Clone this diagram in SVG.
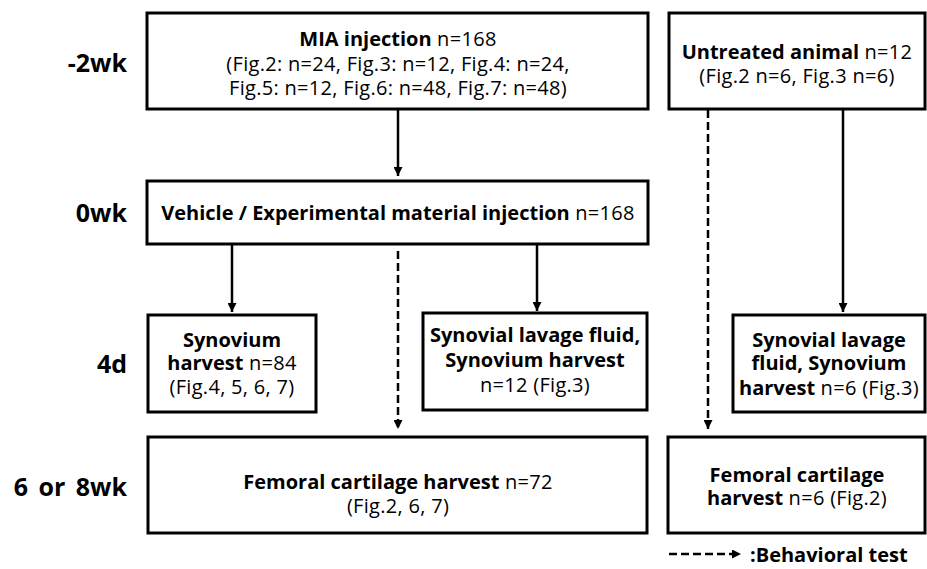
<svg xmlns="http://www.w3.org/2000/svg" width="927" height="569" viewBox="0 0 927 569">
<defs>
<style>
.box{fill:#fff;stroke:#000;stroke-width:3}
.t{font-family:"Open Sans","Noto Sans","DejaVu Sans",sans-serif;font-size:20px;fill:#000;text-anchor:middle;letter-spacing:0.3px}
.b{font-weight:bold;letter-spacing:0}
.lab{font-family:"Open Sans","Noto Sans","DejaVu Sans",sans-serif;font-size:25px;font-weight:bold;fill:#000;text-anchor:end;word-spacing:4px}
.solid{stroke:#000;stroke-width:2.5;fill:none;marker-end:url(#ah)}
.dash{stroke:#000;stroke-width:2.5;fill:none;stroke-dasharray:8 4;marker-end:url(#ah)}
</style>
<marker id="ah" viewBox="0 0 10 10" refX="10" refY="5" markerWidth="9" markerHeight="9" orient="auto" markerUnits="userSpaceOnUse">
<path d="M0,0 L10,5 L0,10 z" fill="#000"/>
</marker>
</defs>
<rect width="927" height="569" fill="#fff"/>

<g id="labels">
<text class="lab" x="127" y="72">-2wk</text>
<text class="lab" x="127" y="222">0wk</text>
<text class="lab" x="127" y="373">4d</text>
<text class="lab" x="127" y="496">6 or 8wk</text>
</g>

<g id="connectors">
<line class="solid" x1="398" y1="110" x2="398" y2="176"/>
<line class="solid" x1="232" y1="245" x2="232" y2="312"/>
<line class="solid" x1="537" y1="245" x2="537" y2="311"/>
<line class="dash" x1="398" y1="251" x2="398" y2="429"/>
<line class="dash" x1="708" y1="110" x2="708" y2="429"/>
<line class="solid" x1="843" y1="110" x2="843" y2="312"/>
</g>

<g id="mia">
<rect class="box" x="147" y="13" width="501" height="96"/>
<text class="t" x="398" y="46"><tspan class="b">MIA injection</tspan> n=168</text>
<text class="t" x="398" y="71">(Fig.2: n=24, Fig.3: n=12, Fig.4: n=24,</text>
<text class="t" x="398" y="95">Fig.5: n=12, Fig.6: n=48, Fig.7: n=48)</text>
</g>

<g id="untreated">
<rect class="box" x="669" y="13" width="256" height="96"/>
<text class="t" x="797" y="59"><tspan class="b">Untreated animal</tspan> n=12</text>
<text class="t" x="797" y="83">(Fig.2 n=6, Fig.3 n=6)</text>
</g>

<g id="vehicle">
<rect class="box" x="147" y="181" width="501" height="63"/>
<text class="t" x="398" y="220"><tspan class="b">Vehicle / Experimental material injection</tspan> n=168</text>
</g>

<g id="synovium">
<rect class="box" x="148" y="315" width="168" height="97"/>
<text class="t b" x="232" y="347">Synovium</text>
<text class="t" x="232" y="370"><tspan class="b">harvest</tspan> n=84</text>
<text class="t" x="232" y="394">(Fig.4, 5, 6, 7)</text>
</g>

<g id="lavage-mid">
<rect class="box" x="423" y="313" width="224" height="97"/>
<text class="t b" x="535" y="342">Synovial lavage fluid,</text>
<text class="t b" x="535" y="367">Synovium harvest</text>
<text class="t" x="535" y="392">n=12 (Fig.3)</text>
</g>

<g id="lavage-right">
<rect class="box" x="733" y="315" width="192" height="97"/>
<text class="t b" x="829" y="347">Synovial lavage</text>
<text class="t b" x="829" y="370">fluid, Synovium</text>
<text class="t" x="829" y="395"><tspan class="b">harvest</tspan> n=6 (Fig.3)</text>
</g>

<g id="femoral-left">
<rect class="box" x="148" y="437" width="499" height="96"/>
<text class="t" x="398" y="489"><tspan class="b">Femoral cartilage harvest</tspan> n=72</text>
<text class="t" x="398" y="513">(Fig.2, 6, 7)</text>
</g>

<g id="femoral-right">
<rect class="box" x="668" y="437" width="257" height="96"/>
<text class="t b" x="797" y="482">Femoral cartilage</text>
<text class="t" x="797" y="505"><tspan class="b">harvest</tspan> n=6 (Fig.2)</text>
</g>

<g id="legend">
<line class="dash" x1="669" y1="554" x2="741" y2="554"/>
<text class="t b" x="750" y="562" style="text-anchor:start">:Behavioral test</text>
</g>
</svg>
